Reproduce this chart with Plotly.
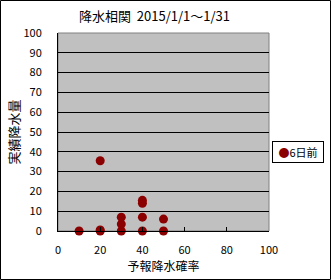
import plotly.graph_objects as go

forecast_prob = [10, 20, 20, 20, 30, 30, 30, 40, 40, 40, 40, 50, 50]
actual_rain = [0, 0, 0.5, 35.5, 0, 3.5, 7, 0, 7, 14, 15.5, 0, 6]
series_name = "6日前"

W, H = 331, 280
ml, mr, mt, mb = 58, 62, 33, 49
pw, ph = W - ml - mr, H - mt - mb

font = "Noto Sans CJK JP, sans-serif"
marker_color = "#8b0000"

fig = go.Figure()
fig.add_trace(go.Scatter(
    x=forecast_prob, y=actual_rain, mode="markers", name=series_name,
    marker=dict(color=marker_color, size=9, line=dict(width=0)),
    cliponaxis=False,
))

def px(x):
    return (x - ml) / pw

def py(y):
    return (H - mb - y) / ph

fig.update_layout(
    width=W, height=H,
    margin=dict(l=ml, r=mr, t=mt, b=mb, autoexpand=False),
    paper_bgcolor="white", plot_bgcolor="#c0c0c0",
    font=dict(family=font, size=11, color="black"),
    showlegend=False,
    xaxis=dict(range=[0, 100], dtick=20, showgrid=False, zeroline=False,
               showline=True, linecolor="black", linewidth=1,
               ticks="inside", ticklen=4, tickcolor="black",
               tickfont=dict(size=11), ticklabelstandoff=9,
               title=dict(text="予報降水確率", font=dict(size=12), standoff=6)),
    yaxis=dict(range=[0, 100], dtick=10, showgrid=True, gridcolor="black",
               gridwidth=1, zeroline=False, showline=True, linecolor="black",
               linewidth=1, ticks="", tickfont=dict(size=11),
               ticklabelstandoff=13,
               title=dict(text="実績降水量", font=dict(size=13), standoff=0)),
    shapes=[
        dict(type="rect", xref="paper", yref="paper",
             x0=px(0.5), x1=px(W - 0.5), y0=py(H - 0.5), y1=py(0.5),
             line=dict(color="black", width=1), fillcolor="rgba(0,0,0,0)",
             layer="below"),
        dict(type="rect", xref="paper", yref="paper", x0=0, x1=1, y0=0, y1=1,
             line=dict(color="#808080", width=1), fillcolor="rgba(0,0,0,0)",
             layer="below"),
    ],
    annotations=[
        dict(text="降水相関  2015/1/1～1/31", xref="paper", yref="paper",
             x=px(154), y=py(15), xanchor="center", yanchor="middle",
             showarrow=False, font=dict(size=13)),
        dict(text=f"<span style='color:{marker_color}'>●</span>{series_name}",
             xref="paper", yref="paper", x=px(272), y=py(141),
             xanchor="left", yanchor="top", showarrow=False,
             bordercolor="black", borderwidth=1, borderpad=2,
             bgcolor="white", font=dict(size=11), width=46, align="center"),
    ],
)

fig.write_html("out.html")
